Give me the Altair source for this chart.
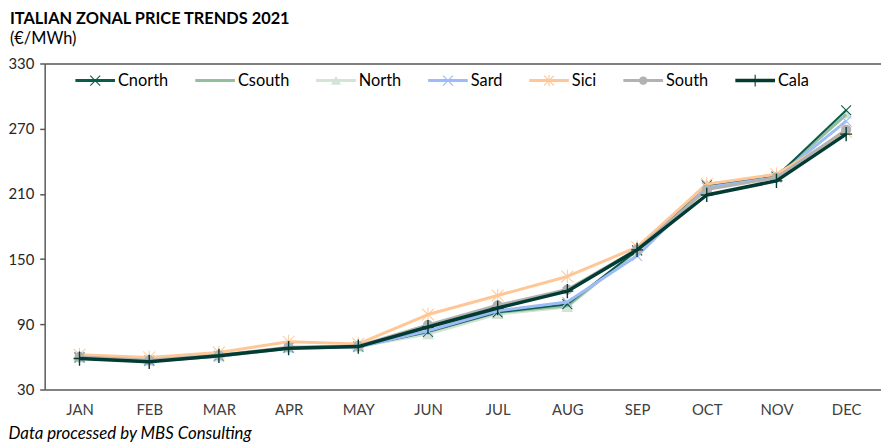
import math
import altair as alt
import pandas as pd

# ---------------- data ----------------
months = ["JAN", "FEB", "MAR", "APR", "MAY", "JUN", "JUL", "AUG", "SEP", "OCT", "NOV", "DEC"]
series = ["Cnorth", "Csouth", "North", "Sard", "Sici", "South", "Cala"]

cnorth = [59.5, 56.5, 61.0, 68.5, 69.5, 83.0, 101.0, 108.5, 158.0, 218.0, 226.0, 287.0]
csouth = [59.5, 56.5, 61.0, 68.5, 69.5, 83.0, 101.0, 107.0, 158.0, 219.0, 226.0, 283.0]
north = [59.5, 56.5, 60.5, 68.5, 69.5, 81.0, 99.5, 106.0, 158.0, 219.0, 226.0, 284.0]
sard = [59.0, 56.0, 60.5, 68.0, 69.0, 84.0, 102.5, 110.5, 153.0, 216.0, 225.0, 277.0]
sici = [62.0, 59.5, 64.0, 74.0, 72.0, 99.0, 116.5, 134.0, 161.0, 219.0, 228.0, 267.0]
south = [60.0, 57.0, 61.5, 69.0, 70.0, 89.5, 107.5, 122.0, 159.0, 214.0, 225.0, 269.0]
cala = [58.5, 55.5, 61.0, 68.0, 69.5, 87.5, 105.0, 120.5, 158.5, 209.0, 222.0, 265.0]

values = {"Cnorth": cnorth, "Csouth": csouth, "North": north, "Sard": sard,
          "Sici": sici, "South": south, "Cala": cala}

y_ticks = [30, 90, 150, 210, 270, 330]

colors = ["#0B5B4D", "#93BF9E", "#D3E4D4", "#9DBBF7", "#FFC796", "#B2B2B2", "#023B31"]
markers = ["x", "none", "tri", "x", "star", "circle", "plus"]
line_widths = [2.0, 3.0, 3.0, 3.0, 3.0, 3.0, 3.5]
draw_order = ["North", "Csouth", "Cnorth", "Sard", "Sici", "South", "Cala"]

rows = []
for s in series:
    for m, v in zip(months, values[s]):
        rows.append({"series": s, "month": m, "value": v})
df = pd.DataFrame(rows)

FONT = "Lato"


# ---------------- symbol path helpers ----------------
def poly(pts):
    n = len(pts)
    a = sum(pts[i][0] * pts[(i + 1) % n][1] - pts[(i + 1) % n][0] * pts[i][1] for i in range(n))
    if a < 0:
        pts = pts[::-1]
    return "M" + "L".join(f"{x:.4f},{y:.4f}" for x, y in pts) + "Z"


def seg(x0, y0, x1, y1, t):
    L = math.hypot(x1 - x0, y1 - y0)
    ux, uy = (x1 - x0) / L, (y1 - y0) / L
    nx, ny = -uy, ux
    return poly([(x0 + t * nx, y0 + t * ny), (x1 + t * nx, y1 + t * ny),
                 (x1 - t * nx, y1 - t * ny), (x0 - t * nx, y0 - t * ny)])


def circ(r, k=28):
    return poly([(r * math.cos(2 * math.pi * i / k), r * math.sin(2 * math.pi * i / k)) for i in range(k)])


def marker_path(kind, a, t, unit):
    """kind, half-extent a (px), half thickness t (px), unit = px per path unit"""
    a_, t_ = a / unit, t / unit
    if kind == "x":
        return seg(-a_, -a_, a_, a_, t_) + seg(-a_, a_, a_, -a_, t_)
    if kind == "star":
        b = a_ * 1.15
        return seg(-a_, -a_, a_, a_, t_) + seg(-a_, a_, a_, -a_, t_) + seg(0, -b, 0, b, t_)
    if kind == "plus":
        b = a_ * 1.2
        return seg(0, -b, 0, b, t_) + seg(-a_, 0, a_, 0, t_)
    if kind == "tri":
        return poly([(-a_, a_ * 0.85), (0, -a_ * 0.95), (a_, a_ * 0.85)])
    if kind == "circle":
        return circ(a_ * 0.85)
    return ""


# legend symbols: line + marker, 1600 size -> 20 px per unit
LEG_UNIT = 20.0
legend_paths = []
for s, mk in zip(series, markers):
    half = 1.5 if s != "Cala" else 1.75
    p = seg(-1, 0, 1, 0, half / LEG_UNIT)
    mp = marker_path(mk, 5.0, 0.55, LEG_UNIT)
    legend_paths.append(p + mp)

# plot markers: size 400 -> 10 px per unit
PT_UNIT = 10.0
plot_marker_specs = {"x": (5.0, 0.55), "star": (6.0, 0.5), "plus": (6.0, 0.7),
                     "tri": (6.0, 0), "circle": (6.0, 0)}

color_scale = alt.Scale(domain=series, range=colors)

x_enc = alt.X("month:O", sort=months, scale=alt.Scale(type="point", padding=0.5),
              axis=alt.Axis(title="Data processed by MBS Consulting", titleAnchor="start",
                            titleAlign="left", titleX=-37, titleY=49, titleBaseline="alphabetic",
                            titleFont=FONT, titleFontSize=17, titleFontStyle="italic",
                            titleFontWeight="normal", titleColor="#000000",
                            labelAngle=0, labelFont=FONT, labelFontSize=15, labelColor="#404040",
                            labelPadding=13, ticks=False, domainColor="#595959", domainWidth=1.5,
                            grid=False))
y_enc = alt.Y("value:Q", scale=alt.Scale(domain=[30, 330], nice=False, zero=False),
              axis=alt.Axis(title=None, values=y_ticks, labelFont=FONT, labelFontSize=15,
                            labelColor="#262626", labelPadding=6, tickSize=5, tickColor="#595959",
                            tickWidth=1.5, domainColor="#595959", domainWidth=1.5,
                            grid=True, gridColor="#7F7F7F", gridWidth=2,
                            gridOpacity=alt.condition("datum.value === 330", alt.value(1), alt.value(0))))

leg = alt.Legend(title=None, orient="none", legendX=31, legendY=-3, direction="horizontal",
                 symbolSize=1600, symbolStrokeWidth=0, symbolOpacity=1,
                 labelFont=FONT, labelFontSize=16.5, labelColor="#000000", labelOffset=3,
                 columnPadding=27, padding=0)

base = alt.Chart(df)
layers = []

# legend-only layer (invisible marks; its legend draws line + marker symbols)
layers.append(base.mark_point(filled=True, opacity=0, size=1600, strokeWidth=0).encode(
    x=x_enc, y=y_enc,
    color=alt.Color("series:N", scale=color_scale, legend=leg),
    shape=alt.Shape("series:N", scale=alt.Scale(domain=series, range=legend_paths), legend=leg),
))

for s in draw_order:
    i = series.index(s)
    sub = base.transform_filter(alt.datum.series == s)
    layers.append(sub.mark_line(strokeWidth=line_widths[i], strokeJoin="round").encode(
        x=x_enc, y=y_enc, color=alt.Color("series:N", scale=color_scale, legend=None)))
    mk = markers[i]
    if mk != "none":
        a, t = plot_marker_specs[mk]
        layers.append(sub.mark_point(shape=marker_path(mk, a, t, PT_UNIT), filled=True,
                                     size=400, opacity=1, strokeWidth=0).encode(
            x=x_enc, y=y_enc, color=alt.Color("series:N", scale=color_scale, legend=None)))

chart = alt.layer(*layers).properties(
    width=844, height=329,
    autosize=alt.AutoSizeParams(type="none"),
    padding={"left": 37, "top": 54, "right": 0, "bottom": 55},
    title=alt.TitleParams(text="ITALIAN ZONAL PRICE TRENDS 2021", subtitle="(€/MWh)",
                          anchor="start", frame="group", dx=-35, offset=9,
                          font=FONT, fontSize=16.5, fontWeight="bold", color="#000000",
                          subtitleFont=FONT, subtitleFontSize=16.5, subtitleColor="#000000",
                          subtitlePadding=4),
).configure_view(stroke=None)

chart.save("out.html", embed_options={"renderer": "svg", "actions": False})
